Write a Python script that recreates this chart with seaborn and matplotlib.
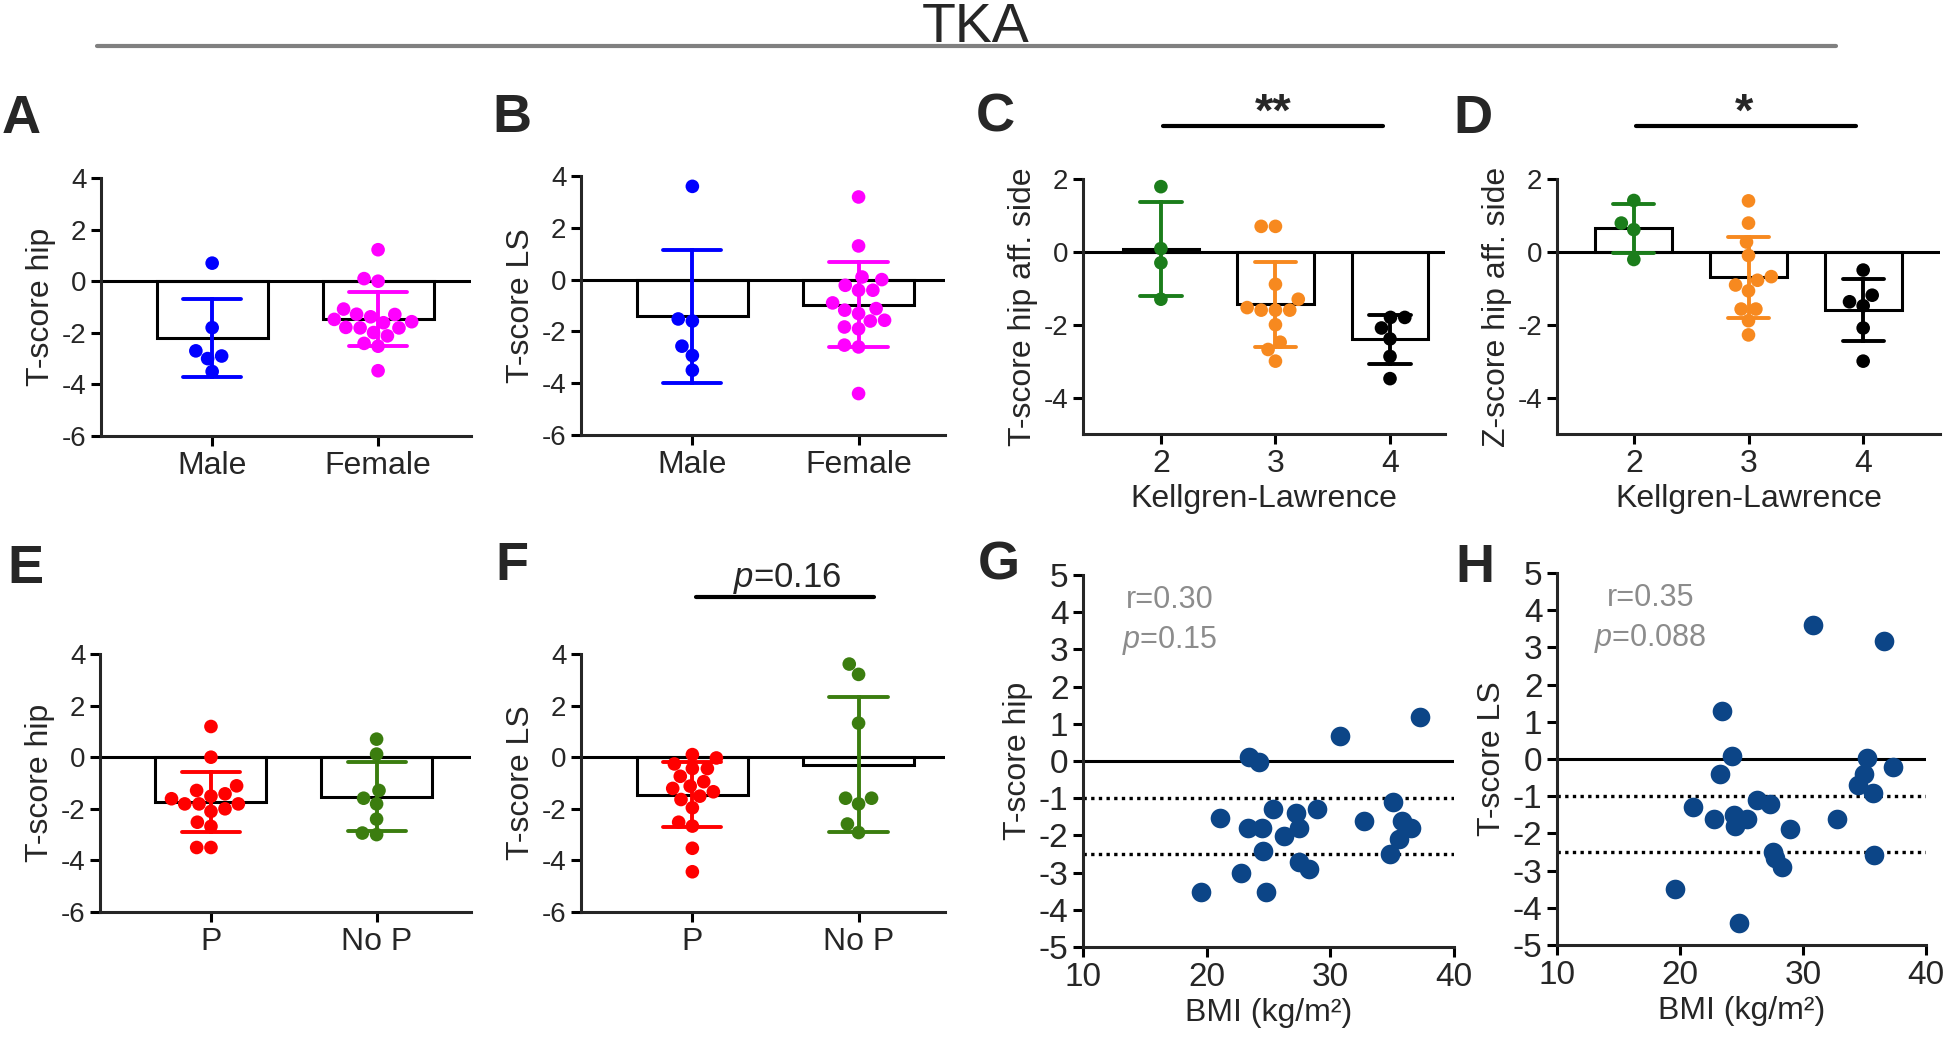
import numpy as np
import pandas as pd
import matplotlib
matplotlib.use("Agg")
import matplotlib.pyplot as plt
from matplotlib.lines import Line2D
import seaborn as sns

# values (TKA cohort)
sex_names = ["Male", "Female"]
hip_male = [0.7, -1.8, -2.7, -2.9, -3.0, -3.5]
hip_female = [1.22, 0.1, 0.0, -1.08, -1.29, -1.48, -1.28, -1.61, -1.38, -1.57,
              -1.81, -1.81, -1.79, -1.99, -2.12, -2.41, -2.52, -3.47]
ls_male = [3.6, -1.6, -1.52, -2.57, -2.93, -3.5]
ls_female = [3.19, 1.3, 0.0, 0.1, -0.22, -0.41, -0.41, -0.9, -1.18, -1.12,
             -1.31, -1.6, -1.57, -1.83, -1.9, -2.53, -2.6, -4.4]

kl_names = ["2", "3", "4"]
t_kl2 = [1.79, 0.09, -0.3, -1.3]
t_kl3 = [0.7, 0.7, -0.89, -1.3, -1.6, -1.6, -1.6, -1.53, -2.0, -2.48, -2.68, -3.0]
t_kl4 = [-1.8, -1.8, -2.09, -2.39, -2.87, -3.48]
z_kl2 = [1.41, 0.79, 0.61, -0.21]
z_kl3 = [1.4, 0.79, 0.27, -0.1, -0.68, -0.78, -0.91, -1.07, -1.57, -1.57, -1.89, -2.28]
z_kl4 = [-0.5, -1.19, -1.37, -1.48, -2.09, -3.0]

pain_names = ["P", "No P"]
hip_p = [1.19, 0.0, -1.29, -1.51, -2.0, -1.81, -1.81, -1.81, -1.61, -1.42,
         -1.11, -2.1, -2.52, -2.68, -3.5, -3.5]
hip_nop = [0.7, 0.12, -1.29, -1.59, -1.81, -2.4, -3.0, -2.94]
ls_p = [-0.03, 0.1, -0.26, -0.44, -0.44, -0.74, -0.95, -1.12, -1.21, -1.34,
        -1.51, -1.64, -1.96, -2.52, -2.67, -3.53, -4.44]
ls_nop = [3.61, 3.21, 1.32, -1.59, -1.59, -1.81, -2.59, -2.92]

bmi_g = [37.28, 30.75, 23.4, 24.2, 21.05, 25.36, 27.25, 28.92, 32.7, 35.07, 35.8, 36.55,
         35.58, 34.8, 23.34, 24.47, 26.23, 27.49, 24.53, 22.75, 27.49, 28.3, 19.57, 24.8]
hip_g = [1.19, 0.68, 0.1, -0.02, -1.52, -1.3, -1.41, -1.3, -1.6, -1.11, -1.61, -1.81,
         -2.11, -2.5, -1.81, -1.81, -2.01, -1.81, -2.41, -3.0, -2.71, -2.91, -3.52, -3.52]
bmi_h = [30.81, 36.56, 23.41, 24.23, 23.28, 35.2, 34.93, 37.32, 34.5, 35.66, 21.06, 22.79,
         24.4, 25.43, 24.49, 26.3, 27.29, 28.92, 32.76, 27.56, 27.75, 28.29, 35.8, 19.62, 24.77]
ls_h = [3.59, 3.18, 1.29, 0.09, -0.41, 0.02, -0.39, -0.21, -0.7, -0.92, -1.3, -1.6,
        -1.51, -1.6, -1.8, -1.09, -1.21, -1.89, -1.6, -2.49, -2.67, -2.91, -2.58, -3.5, -4.4]

sns.set_style("ticks")
plt.rcParams["font.family"] = ["Liberation Sans", "DejaVu Sans"]
plt.rcParams["axes.unicode_minus"] = False
plt.rcParams["mathtext.fontset"] = "custom"
plt.rcParams["mathtext.it"] = "Liberation Sans:italic"
plt.rcParams["mathtext.rm"] = "Liberation Sans"

W, H = 1945, 1039
fig = plt.figure(figsize=(W / 100, H / 100), dpi=100)


def px_axes(left, right, top, bottom):
    return fig.add_axes([left / W, 1 - bottom / H, (right - left) / W, (bottom - top) / H])


def ftext(x, y, s, **kw):
    fig.text(x / W, 1 - y / H, s, **kw)


def style_axes(ax, labelsize):
    sns.despine(ax=ax)
    for sp in ("left", "bottom"):
        ax.spines[sp].set_linewidth(2.2)
    ax.tick_params(width=2.2, length=7, labelsize=labelsize, color="black")


def bar_panel(ax, groups, names, colors, ylim, yticks, xlim, ylabel, xlabel="", capsize=0.35):
    df = pd.DataFrame({"group": np.repeat(names, [len(g) for g in groups]),
                       "value": np.concatenate(groups)})
    pal = dict(zip(names, colors))
    sns.barplot(data=df, x="group", y="value", order=names, errorbar=None, color="white",
                edgecolor="black", linewidth=2.2, width=0.67, ax=ax)
    ax.axhline(0, color="black", lw=2.2, zorder=2)
    sns.swarmplot(data=df, x="group", y="value", order=names, hue="group", palette=pal,
                  size=9.8, linewidth=0, legend=False, ax=ax, zorder=3)
    sns.pointplot(data=df, x="group", y="value", order=names, hue="group", palette=pal,
                  errorbar="sd", capsize=capsize, linestyle="none", marker="none",
                  err_kws={"linewidth": 2.8}, legend=False, ax=ax)
    ax.set_ylim(*ylim)
    ax.set_yticks(yticks)
    ax.set_xlim(*xlim)
    ax.set_ylabel(ylabel, fontsize=23)
    ax.set_xlabel(xlabel, fontsize=23)
    style_axes(ax, 20)
    ax.tick_params(axis="x", labelsize=23)


def scatter_panel(ax, bmi, score, ylabel, r_txt, p_txt, txt_x):
    sns.scatterplot(x=bmi, y=score, color="#0c4587", s=200, linewidth=0, ax=ax, zorder=3)
    ax.axhline(0, color="black", lw=2.2, zorder=2)
    for lvl in (-1, -2.5):
        ax.axhline(lvl, color="black", lw=2.4, ls=(0, (1, 1.3)), zorder=2)
    ax.set_xlim(10, 40)
    ax.set_ylim(-5, 5)
    ax.set_xticks([10, 20, 30, 40])
    ax.set_yticks(range(-5, 6))
    ax.set_xlabel("BMI (kg/m\u00b2)", fontsize=23)
    ax.set_ylabel(ylabel, fontsize=23)
    style_axes(ax, 24)
    ax.text(txt_x, 4.1, r_txt, ha="center", va="baseline", fontsize=22, color="#8c8c8c")
    ax.text(txt_x, 3.05, p_txt, ha="center", va="baseline", fontsize=22, color="#8c8c8c")


# panel A, B, C, D
axA = px_axes(101, 471, 178, 436)
bar_panel(axA, [hip_male, hip_female], sex_names, ["#0000ff", "#ff00ff"],
          (-6, 4), range(-6, 5, 2), (-0.67, 1.56), "T-score hip")
axB = px_axes(581, 945, 176, 435)
bar_panel(axB, [ls_male, ls_female], sex_names, ["#0000ff", "#ff00ff"],
          (-6, 4), range(-6, 5, 2), (-0.67, 1.52), "T-score LS")
axC = px_axes(1083, 1445, 179, 434)
bar_panel(axC, [t_kl2, t_kl3, t_kl4], kl_names, ["#1b7d1b", "#f7891f", "black"],
          (-5, 2), [-4, -2, 0, 2], (-0.68, 2.48), "T-score hip aff. side",
          "Kellgren-Lawrence", capsize=0.36)
axD = px_axes(1557, 1940, 179, 434)
bar_panel(axD, [z_kl2, z_kl3, z_kl4], kl_names, ["#1b7d1b", "#f7891f", "black"],
          (-5, 2), [-4, -2, 0, 2], (-0.67, 2.67), "Z-score hip aff. side",
          "Kellgren-Lawrence", capsize=0.36)

# panel E, F
axE = px_axes(100, 471, 654, 912)
bar_panel(axE, [hip_p, hip_nop], pain_names, ["#ff0000", "#3b7d0f"],
          (-6, 4), range(-6, 5, 2), (-0.67, 1.57), "T-score hip")
axF = px_axes(581, 945, 654, 912)
bar_panel(axF, [ls_p, ls_nop], pain_names, ["#ff0000", "#3b7d0f"],
          (-6, 4), range(-6, 5, 2), (-0.67, 1.52), "T-score LS")

# panel G, H
axG = px_axes(1083, 1454, 575, 947)
scatter_panel(axG, bmi_g, hip_g, "T-score hip", "r=0.30", "$\\mathit{p}$=0.15", 17.0)
axH = px_axes(1557, 1926, 573, 945)
scatter_panel(axH, bmi_h, ls_h, "T-score LS", "r=0.35", "$\\mathit{p}$=0.088", 17.6)

# significance marks
axC.plot([0.02, 1.94], [3.46, 3.46], color="black", lw=3, clip_on=False)
axC.text(0.98, 3.45, "**", ha="center", va="baseline", fontsize=34, fontweight="bold")
axD.plot([0.02, 1.94], [3.46, 3.46], color="black", lw=3, clip_on=False)
axD.text(0.96, 3.45, "*", ha="center", va="baseline", fontsize=34, fontweight="bold")
axF.plot([0.02, 1.09], [6.21, 6.21], color="black", lw=3, clip_on=False)
axF.text(0.57, 6.6, "$\\mathit{p}$=0.16", ha="center", va="baseline", fontsize=25)

# panel letters and title
for letter, x, y in [("A", 2, 133), ("B", 492, 132), ("C", 976, 132), ("D", 1453, 133),
                     ("E", 7, 583), ("F", 495, 580), ("G", 978, 580), ("H", 1455, 582)]:
    ftext(x, y, letter, fontsize=39, fontweight="bold", ha="left", va="baseline")

ftext(976, 42, "TKA", fontsize=40, ha="center", va="baseline")
fig.add_artist(Line2D([97 / W, 1836 / W], [1 - 46 / H, 1 - 46 / H], color="#808080", lw=3))

fig.savefig("out.png", dpi=100)
